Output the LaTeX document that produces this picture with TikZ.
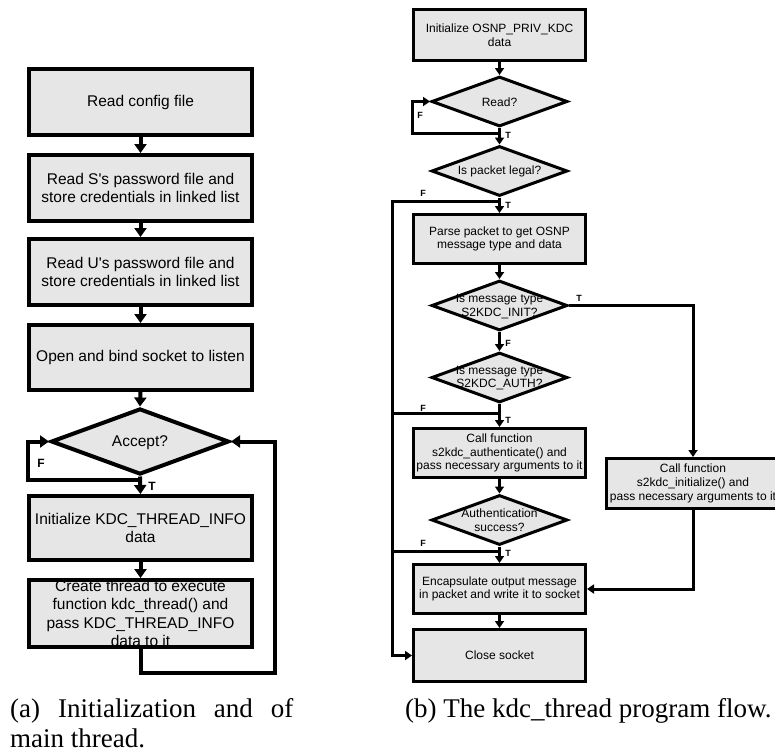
\documentclass[tikz,border=0pt]{standalone}
\usepackage{fontspec}
% \newfontfamily keeps the straight apostrophe (no TeX ligature mapping)
\newfontfamily\arialf{Liberation Sans}
\newfontfamily\capfont{Liberation Serif}
\usetikzlibrary{shapes.geometric,arrows.meta}
\definecolor{boxgray}{HTML}{E6E6E6}

\tikzset{
  lbox/.style={draw, line width=4pt, fill=boxgray, minimum width=223pt,
    inner sep=0pt, align=center, font=\arialf\fontsize{15.5}{18.5}\selectfont},
  ldia/.style={draw, diamond, line width=4pt, fill=boxgray, inner sep=0pt,
    minimum width=178pt, minimum height=66pt},
  rbox/.style={draw, line width=3pt, fill=boxgray, minimum width=172pt,
    inner sep=0pt, align=center, font=\arialf\fontsize{12}{13.7}\selectfont},
  rdia/.style={draw, diamond, line width=3pt, fill=boxgray, inner sep=0pt,
    minimum width=136pt, minimum height=50pt},
  ltxt/.style={inner sep=0pt, align=center, font=\arialf\fontsize{15.5}{18.5}\selectfont},
  rtxt/.style={inner sep=0pt, align=center, font=\arialf\fontsize{12}{13.7}\selectfont},
  larr/.style={line width=4pt, -{Triangle[width=12pt,length=9pt]}},
  lline/.style={line width=4pt},
  rarr/.style={line width=3pt, -{Triangle[width=9pt,length=7pt]}},
  rline/.style={line width=3pt},
  lflag/.style={inner sep=0pt, font=\arialf\fontsize{12}{12}\selectfont\bfseries},
  rflag/.style={inner sep=0pt, font=\arialf\fontsize{9}{9}\selectfont\bfseries},
  capnode/.style={inner sep=0pt, anchor=base west, font=\capfont\fontsize{27}{30}\selectfont},
}

\begin{document}
\begin{tikzpicture}[x=1pt, y=-1pt]
\useasboundingbox (0,0) rectangle (775,753);
\clip (0,0) rectangle (775,753);

% ---------------- main thread ----------------
\node[lbox, minimum height=66pt] (b1) at (140.5,102) {Read config file};
\node[lbox, minimum height=66pt] (b2) at (140.5,188) {Read S's password file and\\store credentials in linked list};
\node[lbox, minimum height=66pt] (b3) at (140.5,272) {Read U's password file and\\store credentials in linked list};
\node[lbox, minimum height=65pt] (b4) at (140.5,357.5) {Open and bind socket to listen};
\node[ldia] (dA) at (140,441.5) {};
\node[ltxt] (dAt) at (140,443) {Accept?};
\node[lbox, minimum height=64pt] (b5) at (140.5,528) {Initialize KDC\_THREAD\_INFO\\data};
\node[lbox, minimum height=65pt] (b6) at (140.5,613.5) {Create thread to execute\\function kdc\_thread() and\\pass KDC\_THREAD\_INFO\\data to it};

\coordinate (jA) at (140,480);
\coordinate (lA) at (28,441.5);
\coordinate (rA) at (275,673);

\draw[larr] (b1) -- (b2);
\draw[larr] (b2) -- (b3);
\draw[larr] (b3) -- (b4);
\draw[larr] (b4.south) -- (dA.north);
\draw[larr] (dA.south) -- (b5.north);
\draw[larr] (jA) -| (lA) -- (dA.west);
\draw[larr] (b5) -- (b6);
\draw[larr] (b6.south) |- (rA) |- (dA.east);

\node[lflag] (fA) at (41,463) {F};
\node[lflag] (tA) at (152,486) {T};

% ---------------- kdc_thread ----------------
\node[rbox, minimum height=51pt] (r1) at (499.5,35) {Initialize OSNP\_PRIV\_KDC\\data};
\node[rdia] (dR) at (499.5,101.5) {};
\node[rtxt] (dRt) at (499.5,102) {Read?};
\node[rdia] (dL) at (499.5,171) {};
\node[rtxt] (dLt) at (499.5,171.5) {Is packet legal?};
\node[rbox, minimum height=49pt] (r2) at (499.5,239) {Parse packet to get OSNP\\message type and data};
\node[rdia] (dI) at (499.5,305.5) {};
\node[rtxt] (dIt) at (499.5,306.5) {Is message type\\S2KDC\_INIT?};
\node[rdia] (dU) at (499.5,377.5) {};
\node[rtxt] (dUt) at (499.5,378) {Is message type\\S2KDC\_AUTH?};
\node[rbox, minimum height=49pt] (r3) at (499.5,453) {Call function\\s2kdc\_authenticate() and\\pass necessary arguments to it};
\node[rdia] (dS) at (499.5,520) {};
\node[rtxt] (dSt) at (499.5,520.5) {Authentication\\success?};
\node[rbox, minimum height=49pt] (r4) at (499.5,589) {Encapsulate output message\\in packet and write it to socket};
\node[rbox, minimum height=52pt] (r5) at (499.5,655.5) {Close socket};
\node[rbox, minimum width=173pt, minimum height=50pt] (ri) at (693,483.5) {Call function\\s2kdc\_initialize() and\\pass necessary arguments to it};

\coordinate (jR) at (499.5,133);
\coordinate (lR) at (412,101.5);
\coordinate (jL) at (499.5,201);
\coordinate (jU) at (499.5,413);
\coordinate (jS) at (499.5,551);
\coordinate (xF) at (392.5,201);
\coordinate (xU) at (392.5,413);
\coordinate (xS) at (392.5,551);

\draw[rarr] (r1) -- (dR.north);
\draw[rarr] (dR.south) -- (dL.north);
\draw[rarr] (jR) -| (lR) -- (dR.west);
\draw[rarr] (dL.south) -- (r2.north);
\draw[rarr] (jL) -- (xF) |- (r5.west);
\draw[rarr] (r2) -- (dI.north);
\draw[rarr] (dI.south) -- (dU.north);
\draw[rarr] (dI.east) -| (ri.north);
\draw[rarr] (dU.south) -- (r3.north);
\draw[rline] (jU) -- (xU);
\draw[rarr] (r3) -- (dS.north);
\draw[rarr] (dS.south) -- (r4.north);
\draw[rline] (jS) -- (xS);
\draw[rarr] (ri.south) |- (r4.east);
\draw[rarr] (r4) -- (r5);

\node[rflag] (fR) at (420,115) {F};
\node[rflag] (tR) at (508,135) {T};
\node[rflag] (fL) at (423,193) {F};
\node[rflag] (tL) at (508,205) {T};
\node[rflag] (tI) at (579,298) {T};
\node[rflag] (fI) at (508,343) {F};
\node[rflag] (fU) at (423,408) {F};
\node[rflag] (tU) at (508,420) {T};
\node[rflag] (fS) at (423,543) {F};
\node[rflag] (tS) at (508,553) {T};

% ---------------- captions ----------------
\node[capnode] (capA1) at (10,717) {\makebox[283pt][s]{(a) Initialization and of}};
\node[capnode] (capA2) at (10,747) {main thread.};
\node[capnode] (capB) at (405,717) {(b) The kdc\_thread program flow.};
\end{tikzpicture}
\end{document}
